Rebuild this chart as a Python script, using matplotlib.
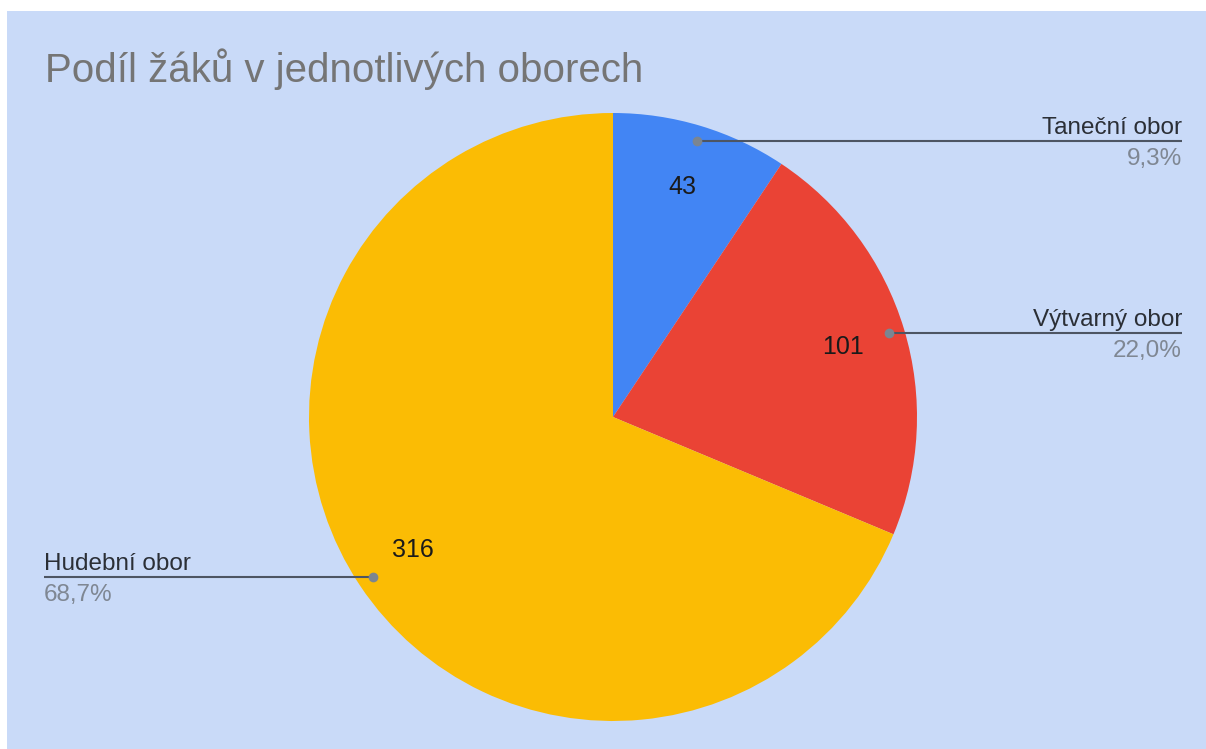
import matplotlib
matplotlib.use('Agg')
import matplotlib.pyplot as plt
from matplotlib.patches import Rectangle
import numpy as np

plt.rcParams['font.family'] = ['Liberation Sans', 'DejaVu Sans']

# data
labels = ['Taneční obor', 'Výtvarný obor', 'Hudební obor']
counts = [43, 101, 316]
pct_labels = ['9,3%', '22,0%', '68,7%']
colors = ['#4285f4', '#ea4335', '#fbbc04']

W, H = 1206, 749
cx, cy, R = 613, 417, 304  # pie centre / radius in pixels (from top-left)

fig = plt.figure(figsize=(W / 100, H / 100), dpi=100, facecolor='white')
# light blue chart area, small white margin on top and left
fig.add_artist(Rectangle((7 / W, 0), 1, (H - 11) / H, transform=fig.transFigure,
                         facecolor='#c9daf8', edgecolor='none', zorder=-10))

ax = fig.add_axes([0, 0, 1, 1])
ax.patch.set_alpha(0)
total = sum(counts)
wedges, texts, autotexts = ax.pie(
    counts, colors=colors, startangle=90, counterclock=False, radius=1,
    autopct=lambda p: '%d' % round(p * total / 100), pctdistance=0.79,
    textprops={'fontsize': 18, 'color': '#1a1a1a'},
    wedgeprops={'linewidth': 0})

ax.set_xlim(-cx / R, (W - cx) / R)
ax.set_ylim(-(H - cy) / R, cy / R)
ax.set_aspect('auto')
ax.axis('off')

line_end = (1182 - cx) / R
line_col = '#4d5563'
for w, lab, pct in zip(wedges, labels, pct_labels):
    ang = np.deg2rad((w.theta1 + w.theta2) / 2)
    x0, y0 = 0.95 * np.cos(ang), 0.95 * np.sin(ang)
    right = x0 > 0
    x1 = line_end if right else -line_end
    ax.plot([x0, x1], [y0, y0], color=line_col, lw=1.5, solid_capstyle='butt', zorder=5)
    ax.plot(x0, y0, 'o', color='#7b8591', ms=7, mec='none', zorder=6)
    ha = 'right' if right else 'left'
    ax.annotate(lab, xy=(x1, y0), xytext=(0, 7), textcoords='offset pixels',
                ha=ha, va='baseline', fontsize=17.5, color='#2b2f36')
    ax.annotate(pct, xy=(x1, y0), xytext=(0, -24), textcoords='offset pixels',
                ha=ha, va='baseline', fontsize=17.5, color='#7f8793')

fig.text(45 / W, 1 - 82 / H, 'Podíl žáků v jednotlivých oborech', fontsize=29,
         color='#757575', va='baseline', ha='left')

fig.savefig('out.png', dpi=100, facecolor='white')
